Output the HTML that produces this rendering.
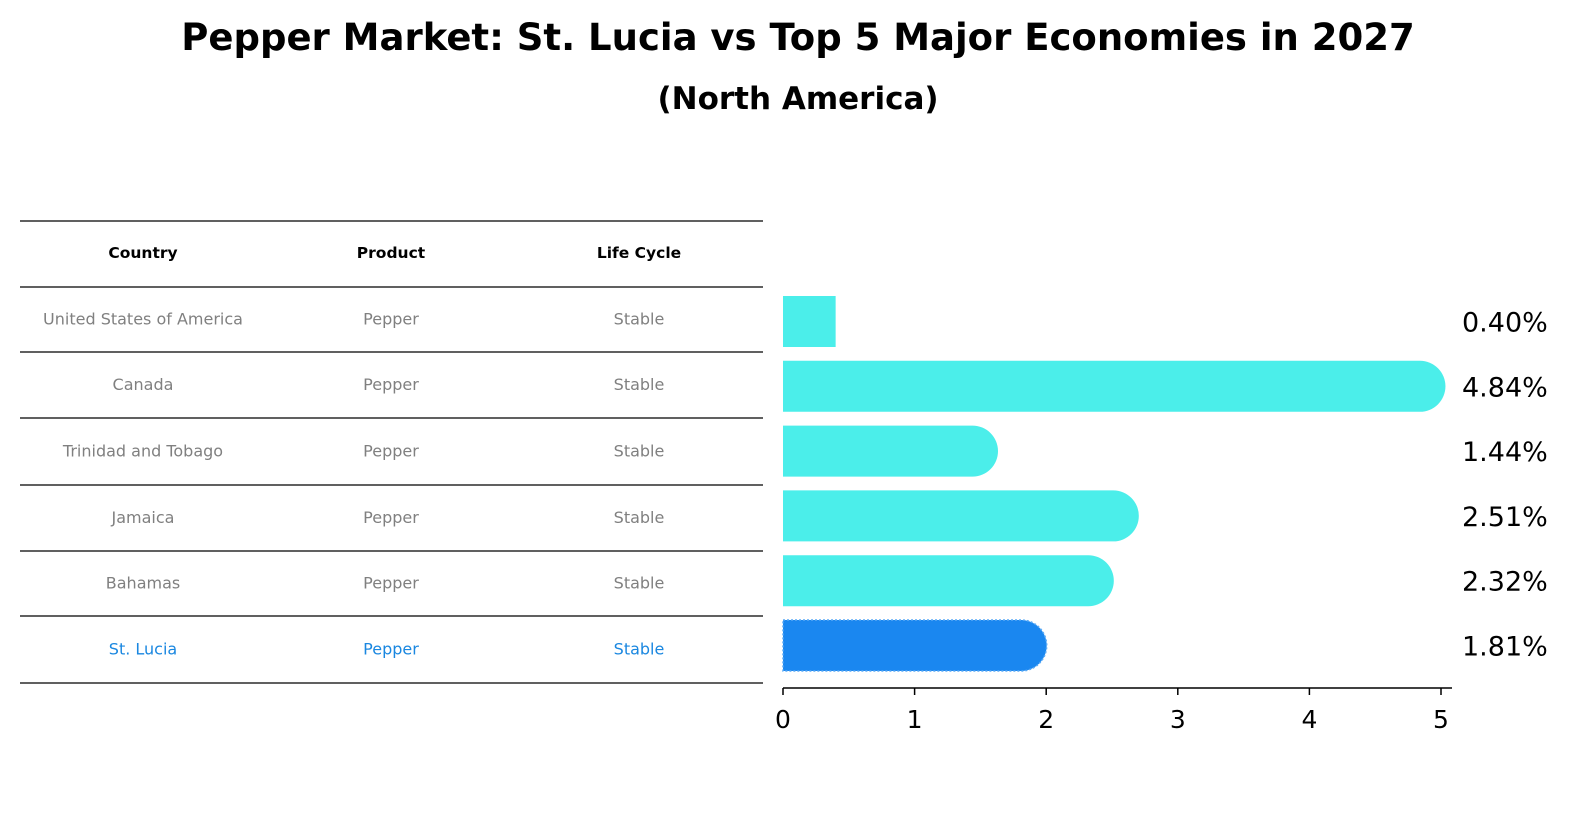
<!DOCTYPE html>
<html><head><meta charset="utf-8"><style>
body{margin:0;background:#fff;}
svg{display:block;font-family:"DejaVu Sans","Liberation Sans",sans-serif;}
</style></head><body>
<svg id="c" width="1586" height="823">
<text x="798" y="50" text-anchor="middle" font-size="37" font-weight="bold">Pepper Market: St. Lucia vs Top 5 Major Economies in 2027</text>
<text x="798" y="109" text-anchor="middle" font-size="31" font-weight="bold">(North America)</text>
<g id="tbl"></g>
<g id="bars"></g>
</svg>
<script>
const countries=["United States of America","Canada","Trinidad and Tobago","Jamaica","Bahamas","St. Lucia"];
const products=["Pepper","Pepper","Pepper","Pepper","Pepper","Pepper"];
const cycles=["Stable","Stable","Stable","Stable","Stable","Stable"];
const values=[0.40,4.84,1.44,2.51,2.32,1.81];
const valueLabels=["0.40%","4.84%","1.44%","2.51%","2.32%","1.81%"];
const ticks=[0,1,2,3,4,5];
const NS="http://www.w3.org/2000/svg";
function mk(p,t,a,txt){const e=document.createElementNS(NS,t);for(const k in a)e.setAttribute(k,a[k]);if(txt!==undefined)e.textContent=txt;p.appendChild(e);return e;}
const tbl=document.getElementById('tbl'),bars=document.getElementById('bars');
const lines=[221,287,352,418,485,551,616,683];
lines.forEach((y,i)=>{const l=mk(tbl,'line',{x1:20,x2:763,y1:y,y2:y,stroke:'#000','stroke-width':1.2});
});
const cx=[143,391,639];
["Country","Product","Life Cycle"].forEach((h,i)=>{const t=mk(tbl,'text',{x:cx[i],y:258,'text-anchor':'middle','font-size':15.5,'font-weight':'bold'},h);
});
countries.forEach((c,r)=>{const y=(lines[r+1]+lines[r+2])/2+5;const col=r===countries.length-1?'#1a87e0':'#808080';
[c,products[r],cycles[r]].forEach((v,i)=>{const t=mk(tbl,'text',{x:cx[i],y:y,'text-anchor':'middle','font-size':16,fill:col},v);
});});
const x0=783,pu=131.6;const X=v=>x0+v*pu;
const rowTop=296,rowStep=64.8,bh=51;
values.forEach((v,i)=>{const y=rowTop+i*rowStep;const w=X(v)-x0;const hl=i===values.length-1;const r=bh/2;
let d;if(w>2*bh){d=`M${x0},${y}H${X(v)}A${r},${r} 0 0 1 ${X(v)},${y+bh}H${x0}Z`;}else{d=`M${x0},${y}H${X(v)}V${y+bh}H${x0}Z`;}
const a={d:d,fill:hl?'#1a87f0':'#4beeea'};if(hl){a.stroke='#5aaaf5';a['stroke-dasharray']='2,2';a['stroke-width']=1.5;}
const p=mk(bars,'path',a);
const t=mk(bars,'text',{x:1462,y:y+bh/2+10,'font-size':27},valueLabels[i]);});
const ax=mk(bars,'line',{x1:x0,x2:1452,y1:688,y2:688,stroke:'#000','stroke-width':1.5});
ticks.forEach(v=>{const l=mk(bars,'line',{x1:X(v),x2:X(v),y1:688,y2:695,stroke:'#000','stroke-width':1.5});
const t=mk(bars,'text',{x:X(v),y:728,'text-anchor':'middle','font-size':25},v);});
</script>
</body></html>
